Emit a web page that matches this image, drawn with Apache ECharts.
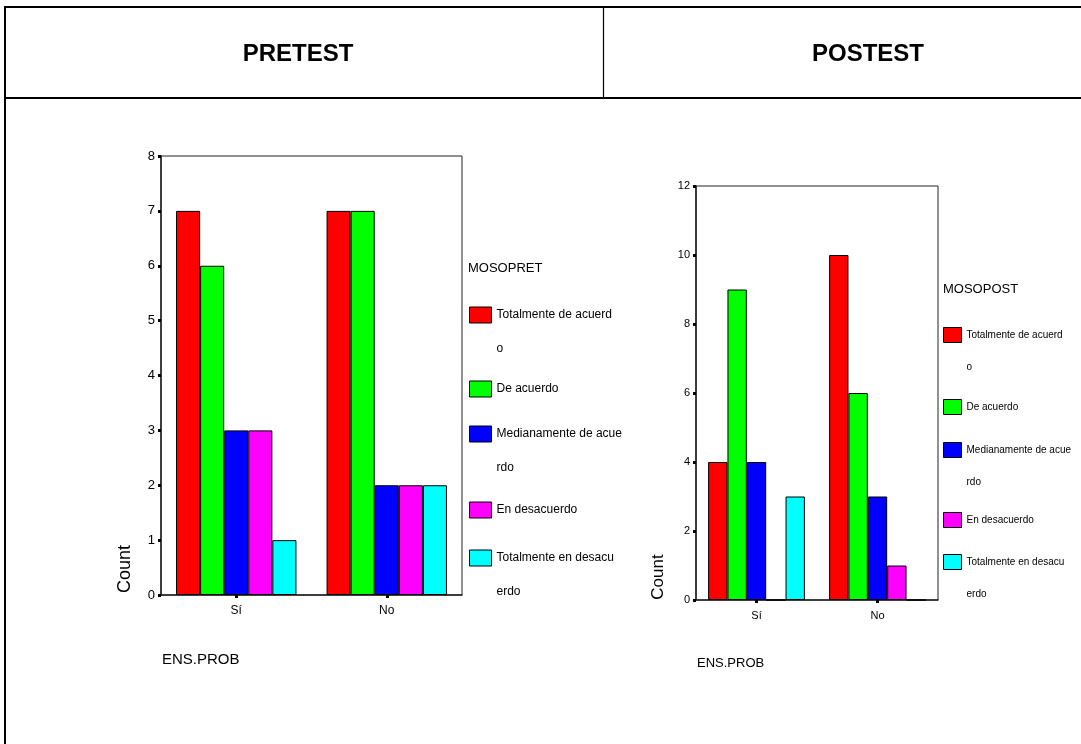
<!DOCTYPE html>
<html>
<head>
<meta charset="utf-8">
<script src="https://cdn.jsdelivr.net/npm/echarts@6/dist/echarts.min.js"></script>
<style>
html,body{margin:0;padding:0;background:#ffffff;}
#chart{width:1081px;height:744px;}
</style>
</head>
<body>
<div id="chart"></div>
<script>
// ---------------- data ----------------
const categories = ['Sí', 'No'];
const seriesNames = ['Totalmente de acuerdo', 'De acuerdo', 'Medianamente de acuerdo', 'En desacuerdo', 'Totalmente en desacuerdo'];
const seriesColors = ['#FF0000', '#00FF00', '#0000FF', '#FF00FF', '#00FFFF'];
// values per series: [Sí, No]
const pretestValues = [[7, 7], [6, 7], [3, 2], [3, 2], [1, 2]];
const posttestValues = [[4, 10], [9, 6], [4, 3], [0, 1], [3, 0]];
const pretestTicks = [0, 1, 2, 3, 4, 5, 6, 7, 8];
const posttestTicks = [0, 2, 4, 6, 8, 10, 12];
const headerLabels = ['PRETEST', 'POSTEST'];
const legendTitles = ['MOSOPRET', 'MOSOPOST'];
const xAxisTitle = 'ENS.PROB';
const yAxisTitle = 'Count';

// ---------------- fonts ----------------
function fontAvailable(name) {
  const ctx = document.createElement('canvas').getContext('2d');
  const s = 'mmmmmmmmmmlli WWW 0123 Totalmente';
  ctx.font = '32px monospace'; const w1 = ctx.measureText(s).width;
  ctx.font = '32px serif'; const w2 = ctx.measureText(s).width;
  ctx.font = '32px "' + name + '", monospace'; const w3 = ctx.measureText(s).width;
  ctx.font = '32px "' + name + '", serif'; const w4 = ctx.measureText(s).width;
  return w3 !== w1 || w4 !== w2;
}
const NARROW = fontAvailable('Liberation Sans Narrow');
const FONT = NARROW ? '"Liberation Sans Narrow", "Liberation Sans", Arial, sans-serif' : '"Liberation Sans", Arial, sans-serif';
const SZ = NARROW
  ? { leg: [14, 12], ylab: [14, 12], xlab: [14, 12], ltitle: [15, 15], xname: [18, 15], count: [18, 17] }
  : { leg: [12, 10], ylab: [13, 11], xlab: [12, 11], ltitle: [13, 13], xname: [15, 13], count: [18, 17] };

// ---------------- layout ----------------
const panels = [
  {
    values: pretestValues, ticks: pretestTicks,
    grid: { left: 161, top: 156, width: 301, height: 439 },
    legend: { x: 469, centers: [315, 389, 434, 510, 558], lineH: 34, iw: 22, ih: 16 },
    legendTitle: { x: 468, y: 268 },
    count: { x: 125, y: 569 },
    xname: { x: 162, y: 660 },
    header: { x: 298, y: 54 },
    xmargin: 10
  },
  {
    values: posttestValues, ticks: posttestTicks,
    grid: { left: 696, top: 186, width: 242, height: 414 },
    legend: { x: 943, centers: [335, 407, 450, 520, 562], lineH: 32, iw: 18, ih: 15 },
    legendTitle: { x: 943, y: 289 },
    count: { x: 658, y: 577 },
    xname: { x: 697, y: 663 },
    header: { x: 868, y: 54 },
    xmargin: 10
  }
];

const WRAP = 20;
function wrapName(name) {
  return name.length > WRAP ? '\n' + name.slice(0, WRAP) + '\n' + name.slice(WRAP) : name;
}

const grids = [], xAxes = [], yAxes = [], series = [], legends = [], graphics = [];

panels.forEach((p, pi) => {
  grids.push(Object.assign({ show: true, borderColor: '#222', borderWidth: 1, backgroundColor: 'transparent', containLabel: false }, p.grid));
  xAxes.push({
    type: 'category', gridIndex: pi, data: categories,
    axisLine: { lineStyle: { color: '#222', width: 1.5 } },
    axisTick: { show: true, alignWithLabel: true, length: 3, lineStyle: { color: '#000', width: 3 } },
    axisLabel: { color: '#000', fontFamily: FONT, fontSize: SZ.xlab[pi], margin: p.xmargin },
    splitLine: { show: false }
  });
  yAxes.push({
    type: 'value', gridIndex: pi,
    min: p.ticks[0], max: p.ticks[p.ticks.length - 1], interval: p.ticks[1] - p.ticks[0],
    axisLine: { show: true, lineStyle: { color: '#222', width: 1.5 } },
    axisTick: { show: true, length: 3, lineStyle: { color: '#000', width: 3 } },
    axisLabel: { color: '#000', fontFamily: FONT, fontSize: SZ.ylab[pi], margin: 6 },
    splitLine: { show: false }
  });
  seriesNames.forEach((name, si) => {
    series.push({
      type: 'bar', name: name, xAxisIndex: pi, yAxisIndex: pi,
      data: p.values[si],
      barGap: '0%', barCategoryGap: '20%',
      itemStyle: { color: seriesColors[si], borderColor: '#000', borderWidth: 1 },
      emphasis: { disabled: true },
      animation: false
    });
    const text = wrapName(name);
    const nLines = text.split('\n').length;
    const H = Math.max(p.legend.ih, nLines * p.legend.lineH);
    legends.push({
      data: [name], orient: 'vertical', selectedMode: false,
      left: p.legend.x, top: p.legend.centers[si] - H / 2,
      padding: 0, itemGap: 0, icon: 'rect',
      itemWidth: p.legend.iw, itemHeight: p.legend.ih,
      itemStyle: { borderColor: '#000', borderWidth: 1 },
      formatter: wrapName,
      textStyle: { color: '#000', fontFamily: FONT, fontSize: SZ.leg[pi], lineHeight: p.legend.lineH }
    });
  });

  graphics.push({
    type: 'text', x: p.header.x, y: p.header.y,
    style: { text: headerLabels[pi], fontFamily: '"Liberation Sans", Arial, sans-serif', fontWeight: 'bold', fontSize: 24, fill: '#000', align: 'center', verticalAlign: 'middle' }
  });
  graphics.push({
    type: 'text', x: p.legendTitle.x, y: p.legendTitle.y,
    style: { text: legendTitles[pi], fontFamily: FONT, fontSize: SZ.ltitle[pi], fill: '#000', align: 'left', verticalAlign: 'middle' }
  });
  graphics.push({
    type: 'text', x: p.count.x, y: p.count.y, rotation: Math.PI / 2,
    style: { text: yAxisTitle, fontFamily: '"Liberation Sans", Arial, sans-serif', fontSize: SZ.count[pi], fill: '#000', align: 'center', verticalAlign: 'middle' }
  });
  graphics.push({
    type: 'text', x: p.xname.x, y: p.xname.y,
    style: { text: xAxisTitle, fontFamily: FONT, fontSize: SZ.xname[pi], fill: '#000', align: 'left', verticalAlign: 'middle' }
  });
});

// table borders
const lineStyle = (w) => ({ stroke: '#000', lineWidth: w });
graphics.push({ type: 'line', shape: { x1: 4, y1: 7, x2: 1081, y2: 7 }, style: lineStyle(2) });
graphics.push({ type: 'line', shape: { x1: 4, y1: 98, x2: 1081, y2: 98 }, style: lineStyle(2) });
graphics.push({ type: 'line', shape: { x1: 5, y1: 6, x2: 5, y2: 744 }, style: lineStyle(2) });
graphics.push({ type: 'line', shape: { x1: 603.5, y1: 7, x2: 603.5, y2: 98 }, style: lineStyle(1.2) });

const chart = echarts.init(document.getElementById('chart'), null, { renderer: 'canvas' });
chart.setOption({
  animation: false,
  backgroundColor: '#ffffff',
  grid: grids,
  xAxis: xAxes,
  yAxis: yAxes,
  legend: legends,
  series: series,
  graphic: graphics
});
</script>
</body>
</html>
